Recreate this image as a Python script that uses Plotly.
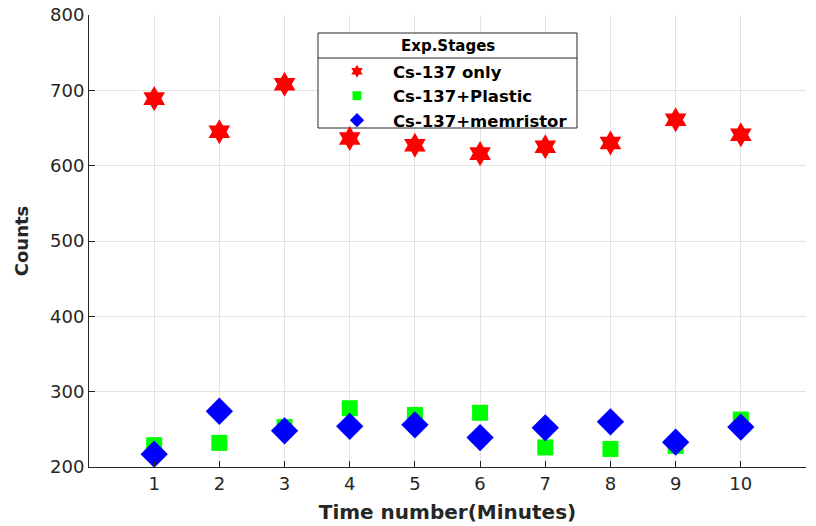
import plotly.graph_objects as go

# Measurement index (minutes) and recorded counts for each experimental stage
minutes = [1, 2, 3, 4, 5, 6, 7, 8, 9, 10]
cs137_only = [689, 645, 708, 636, 627, 616, 625, 630, 661, 641]
cs137_plastic = [229, 232, 253, 278, 269, 272, 226, 224, 228, 263]
cs137_memristor = [217, 274, 248, 254, 256, 239, 252, 260, 233, 253]

x_ticks = [1, 2, 3, 4, 5, 6, 7, 8, 9, 10, 11]
y_ticks = [200, 300, 400, 500, 600, 700, 800]
X_RANGE = [0, 11.0001]
Y_RANGE = [200, 800]

FONT = "DejaVu Sans"
INK = "#262626"

# Plot-area geometry (pixels)
W, H = 816, 526
ML, MR, MT, MB = 89, 10, 15, 59
PW, PH = W - ML - MR, H - MT - MB


def px_to_x(px):
    return X_RANGE[0] + (px - ML) / PW * (X_RANGE[1] - X_RANGE[0])


def py_to_y(py):
    return Y_RANGE[1] - (py - MT) / PH * (Y_RANGE[1] - Y_RANGE[0])


series = [
    ("Cs-137 only", cs137_only, "hexagram", 19, 10, "#ff0000"),
    ("Cs-137+Plastic", cs137_plastic, "square", 16, 9, "#00ff00"),
    ("Cs-137+memristor", cs137_memristor, "diamond", 21, 11, "#0000ff"),
]

fig = go.Figure()
for name, vals, sym, size, _, color in series:
    fig.add_trace(go.Scatter(
        x=minutes, y=vals, mode="markers", name=name, showlegend=False,
        marker=dict(symbol=sym, size=size, color=color, line=dict(width=0)),
    ))
# legend entries with smaller symbols
for name, vals, sym, _, lsize, color in series:
    fig.add_trace(go.Scatter(
        x=[None], y=[None], mode="markers", name=name,
        marker=dict(symbol=sym, size=lsize, color=color, line=dict(width=0)),
    ))

# legend frame (pixels)
leg_left, leg_right, leg_top, leg_bottom, leg_sep = 318, 577, 33, 128, 58

fig.update_layout(
    width=W, height=H,
    margin=dict(l=ML, r=MR, t=MT, b=MB),
    paper_bgcolor="white", plot_bgcolor="white",
    font=dict(family=FONT, color=INK),
    legend=dict(
        x=(leg_left - ML) / PW, y=1 - (54 - MT) / PH,
        xanchor="left", yanchor="top",
        bgcolor="rgba(0,0,0,0)", borderwidth=0,
        font=dict(family=FONT, size=16.5, color="black", weight="bold"),
        itemwidth=62,
        indentation=3,
    ),
    shapes=[
        dict(type="rect", xref="x", yref="y", layer="between",
             x0=px_to_x(leg_left), x1=px_to_x(leg_right),
             y0=py_to_y(leg_top), y1=py_to_y(leg_bottom),
             fillcolor="white", line=dict(color=INK, width=1)),
        dict(type="line", xref="x", yref="y", layer="between",
             x0=px_to_x(leg_left), x1=px_to_x(leg_right),
             y0=py_to_y(leg_sep), y1=py_to_y(leg_sep),
             line=dict(color=INK, width=1)),
    ],
    annotations=[dict(
        text="<b>Exp.Stages</b>", xref="paper", yref="paper",
        x=((leg_left + leg_right) / 2 - ML) / PW,
        y=1 - ((leg_top + leg_sep) / 2 - MT) / PH,
        xanchor="center", yanchor="middle", showarrow=False,
        font=dict(family=FONT, size=15, color="black"),
    )],
)

fig.update_xaxes(
    range=X_RANGE, tickvals=x_ticks, ticktext=[str(v) for v in x_ticks],
    showgrid=True, gridcolor="#e3e3e3", gridwidth=1,
    showline=True, linecolor=INK, linewidth=1,
    ticks="inside", ticklen=6, tickcolor=INK,
    tickfont=dict(family=FONT, size=18, color=INK),
    zeroline=False, automargin=False,
    title=dict(text="<b>Time number(Minutes)</b>", standoff=12,
               font=dict(family=FONT, size=20, color=INK)),
)
fig.update_yaxes(
    range=Y_RANGE, tickvals=y_ticks,
    showgrid=True, gridcolor="#e3e3e3", gridwidth=1,
    showline=True, linecolor=INK, linewidth=1,
    ticks="inside", ticklen=6, tickcolor=INK,
    tickfont=dict(family=FONT, size=18, color=INK),
    zeroline=False, automargin=False,
    title=dict(text="<b>Counts</b>", standoff=16,
               font=dict(family=FONT, size=18, color=INK)),
)

fig.write_html("out.html")
